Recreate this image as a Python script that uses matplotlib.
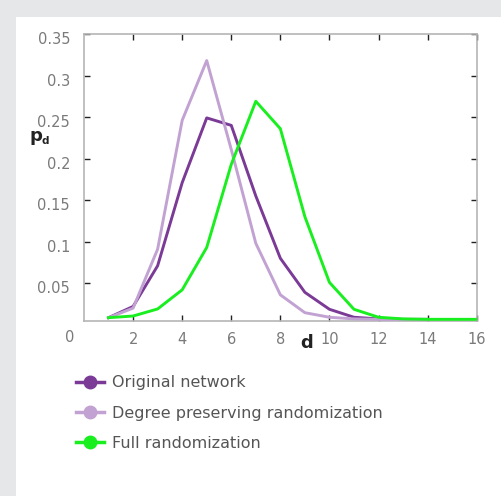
import matplotlib.pyplot as plt
from matplotlib.lines import Line2D
from matplotlib.patches import Rectangle
import matplotlib.transforms as mtransforms

d = list(range(1, 17))
original = [0.0085, 0.022, 0.071, 0.171, 0.249, 0.240, 0.155, 0.080,
            0.039, 0.0186, 0.009, 0.007, 0.0065, 0.0065]
degree_pres = [0.0085, 0.020, 0.091, 0.246, 0.318, 0.211, 0.098, 0.036,
               0.0145, 0.009, 0.007, 0.0065, 0.006, 0.006]
full_rand = [0.0085, 0.0105, 0.019, 0.042, 0.093, 0.193, 0.269, 0.236,
             0.130, 0.051, 0.0186, 0.009, 0.007, 0.0065, 0.0065, 0.0065]

labels = ['Original network', 'Degree preserving randomization', 'Full randomization']
colors = ['#7b3a96', '#c2a2d2', '#19ef1f']
xticks = [2, 4, 6, 8, 10, 12, 14, 16]
yticks = [0.05, 0.1, 0.15, 0.2, 0.25, 0.3, 0.35]
ytick_labels = ['0.05', '0.1', '0.15', '0.2', '0.25', '0.3', '0.35']

plt.rcParams['font.family'] = ['DejaVu Sans']

fig = plt.figure(figsize=(5.01, 4.96), dpi=100)
fig.patch.set_facecolor('white')
# grey strips on top and left
fig.patches.append(Rectangle((0, 0), 16 / 501, 1, transform=fig.transFigure,
                             facecolor='#e6e7e8', edgecolor='none', zorder=0))
fig.patches.append(Rectangle((0, 1 - 17 / 496), 1, 17 / 496, transform=fig.transFigure,
                             facecolor='#e6e7e8', edgecolor='none', zorder=0))

ax = fig.add_axes([84 / 501, 1 - 321 / 496, (476.7 - 84) / 501, (321 - 34) / 496])

series = [original, degree_pres, full_rand]
order = [1, 0, 2]
for i in order:
    ax.plot(d[:len(series[i])], series[i], color=colors[i], lw=2.1, zorder=2 + i)

ax.set_xlim(0, 16)
ax.set_ylim(0.0045, 0.35)
ax.set_xticks(xticks)
ax.set_yticks(yticks)
ax.set_yticklabels(ytick_labels)
ax.tick_params(direction='in', length=4, width=1, color='#222222',
               top=True, right=True, labelsize=10.5, labelcolor='#7a7a7a')
ax.tick_params(axis='y', pad=10)
ax.tick_params(axis='x', pad=8)
for s in ax.spines.values():
    s.set_color('#b5b5b5')
    s.set_linewidth(1.2)

off = mtransforms.ScaledTranslation(0, -4 / 100, fig.dpi_scale_trans)
for lbl in ax.get_yticklabels():
    lbl.set_transform(lbl.get_transform() + off)

ax.annotate('0', xy=(0, 0), xycoords='axes fraction', xytext=(-14, -16),
            textcoords='offset pixels', ha='center', va='center',
            fontsize=10.5, color='#7a7a7a')

fig.text(36 / 501, 1 - 136 / 496, 'p', ha='center', va='center',
         fontsize=13, fontweight='bold', color='#222222')
fig.text(45 / 501, 1 - 141 / 496, 'd', ha='center', va='center',
         fontsize=7.5, fontweight='bold', color='#222222')
fig.text(307 / 501, 1 - 343 / 496, 'd', ha='center', va='center',
         fontsize=13, fontweight='bold', color='#222222')

handles = [Line2D([], [], color=c, lw=2.5, marker='o', markersize=9) for c in colors]
fig.legend(handles, labels, loc='upper left', bbox_to_anchor=(62 / 501, 1 - 361 / 496),
           frameon=False, fontsize=11.5, handlelength=1.7, handletextpad=0.5,
           labelspacing=0.95, labelcolor='#555555')

fig.savefig('out.png', dpi=100)
